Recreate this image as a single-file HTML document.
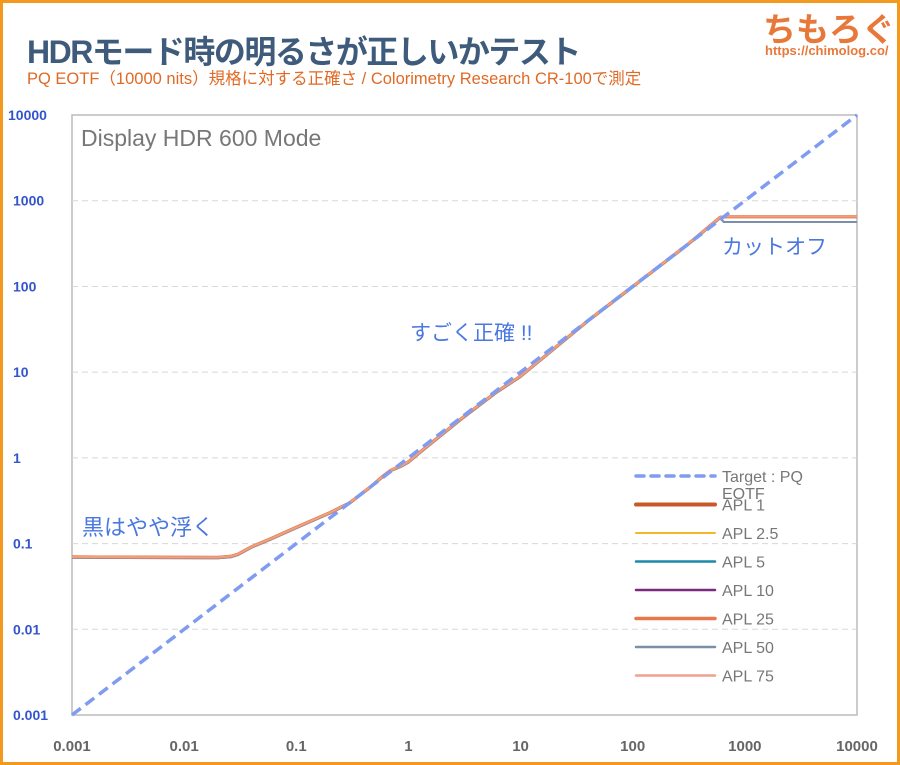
<!DOCTYPE html>
<html><head><meta charset="utf-8"><style>
body{margin:0;background:#fff}
#w{position:relative;width:894px;height:759px;border:3px solid #f39a1e;background:#fff;overflow:hidden;font-family:"Liberation Sans","Noto Sans CJK JP",sans-serif}
.t{position:absolute;white-space:nowrap}
</style></head><body><div id="w">
<div class="t" style="left:24px;top:24px;font-size:32px;font-weight:bold;color:#3f5b7c;letter-spacing:-1.5px">HDRモード時の明るさが正しいかテスト</div>
<div class="t" style="left:24px;top:62px;font-size:16.5px;color:#e06a25">PQ EOTF（10000 nits）規格に対する正確さ / Colorimetry Research CR-100で測定</div>
<div class="t" style="left:760px;top:0px;font-size:33px;font-weight:bold;color:#e8783a">ちもろぐ</div>
<div class="t" style="left:762px;top:40px;font-size:13px;font-weight:bold;color:#e8783a">https://chimolog.co/</div>
<svg width="894" height="759" style="position:absolute;left:0;top:0" id="s" font-family="Liberation Sans, Noto Sans CJK JP, sans-serif"></svg>
</div>
<script>
var s=document.getElementById('s'),h='';
function X(v){return 69+112.14*(Math.log10(v)+3)}
function Y(v){return 712-85.71*(Math.log10(v)+3)}
h+='<rect x="69" y="112" width="785" height="600" fill="none" stroke="#bbb" stroke-width="1.5"/>';
var yl=['0.001','0.01','0.1','1','10','100','1000','10000'];
for(var i=0;i<8;i++){var v=Math.pow(10,i-3),y=Y(v);
 if(i>0&&i<7)h+='<line x1="69" x2="854" y1="'+y+'" y2="'+y+'" stroke="#d8d8d8" stroke-dasharray="6,4"/>';
 h+='<text x="'+(i==7?5:10)+'" y="'+(y+5)+'" font-size="14" fill="#3355cc" font-weight="bold">'+yl[i]+'</text>';
 h+='<text x="'+X(v)+'" y="748" font-size="15" fill="#666" font-weight="bold" text-anchor="middle">'+yl[i]+'</text>';}
h+='<text x="78" y="143" font-size="23" fill="#777">Display HDR 600 Mode</text>';
function path(pts,c,w){var d='';pts.forEach(function(p,i){d+=(i?'L':'M')+X(p[0]).toFixed(1)+','+Y(p[1]).toFixed(1)});
 return '<path d="'+d+'" fill="none" stroke="'+c+'" stroke-width="'+w+'" stroke-linejoin="round"/>';}
var base=[[0.001,0.07],[0.02,0.069],[0.026,0.071],[0.03,0.075],[0.04,0.092],[0.06,0.115],[0.1,0.155],[0.2,0.23],[0.3,0.3],[0.45,0.45],[0.6,0.62],[0.7,0.72],[0.85,0.8],[1,0.9],[1.5,1.4],[3,2.9],[6,5.8],[10,9],[20,19],[40,40],[100,100],[300,300],[600,640]];
function mk(lo,end){var p=base.map(function(q){return [q[0],q[1]*lo]});p.push([650,end]);p.push([10000,end]);return p}
h+=path(mk(1,650),'#c85a28',3);
h+=path(mk(0.975,565),'#1a8aaa',2);
h+=path(mk(0.975,565),'#7a90a8',2);
h+=path(mk(1,650),'#e8784a',3);
h+=path(mk(1,655),'#f0a080',2);
h+='<line x1="69" y1="712" x2="854" y2="112" stroke="#7f9cf0" stroke-width="3.5" stroke-dasharray="11,6"/>';
h+='<text x="79" y="532" font-size="22" fill="#4a78e0">黒はやや浮く</text>';
h+='<text x="407" y="337" font-size="21" fill="#4a78e0">すごく正確 !!</text>';
h+='<text x="719" y="251" font-size="21" fill="#4a78e0">カットオフ</text>';
var L=[['#7f9cf0',3.5,'Target : PQ',1],['#c85a28',4,'APL 1'],['#f2b82a',2,'APL 2.5'],['#1a8aaa',2.5,'APL 5'],['#7a2a80',2.5,'APL 10'],['#e8784a',3.5,'APL 25'],['#7a90a8',2.5,'APL 50'],['#f0a090',2.5,'APL 75']];
L.forEach(function(l,i){var y=473+i*28.5;
 h+='<line x1="633" x2="712" y1="'+y+'" y2="'+y+'" stroke="'+l[0]+'" stroke-width="'+l[1]+'" stroke-linecap="round" '+(l[3]?'stroke-dasharray="8,7"':'')+'/>';
 h+='<text x="719" y="'+(y+6)+'" font-size="16" fill="#777">'+l[2]+'</text>';});
h+='<text x="719" y="496" font-size="16" fill="#777">EOTF</text>';
s.innerHTML=h;
</script></body></html>
